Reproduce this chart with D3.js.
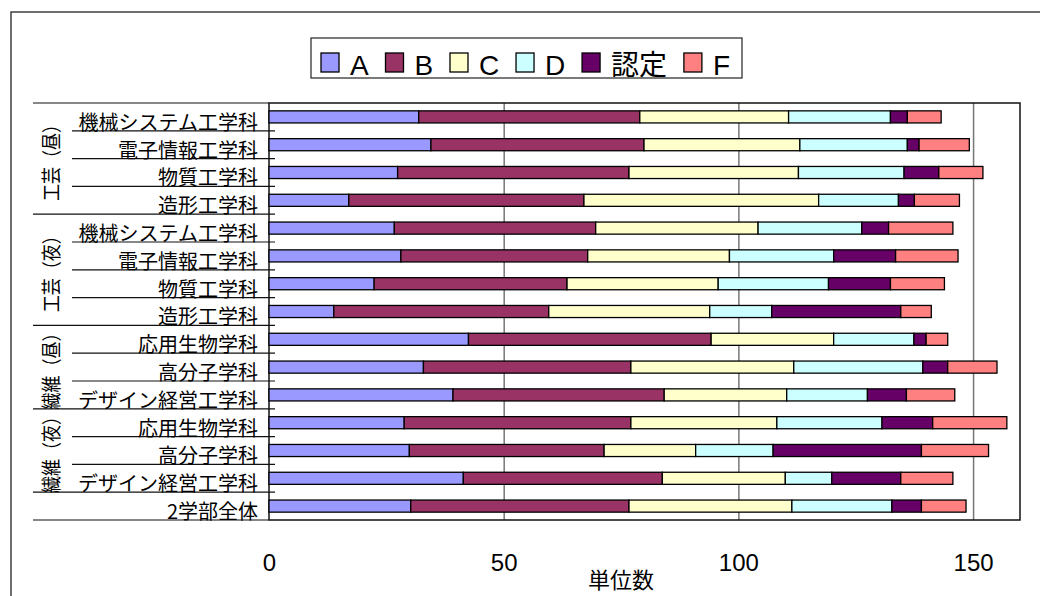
<!DOCTYPE html>
<html>
<head>
<meta charset="utf-8">
<script src="https://cdn.jsdelivr.net/npm/d3@7"></script>
<style>
  body { margin: 0; background: #fff; }
  svg { display: block; }
</style>
</head>
<body>
<svg id="chart"></svg>
<script>
// categories, bottom group "2学部全体" has no group label
let categories = ['機械システム工学科', '電子情報工学科', '物質工学科', '造形工学科',
  '機械システム工学科', '電子情報工学科', '物質工学科', '造形工学科',
  '応用生物学科', '高分子学科', 'デザイン経営工学科',
  '応用生物学科', '高分子学科', 'デザイン経営工学科',
  '2学部全体'];
let groupNames = ['工芸（昼）', '工芸（夜）', '繊維（昼）', '繊維（夜）', ''];
let groupSizes = [4, 4, 3, 3, 1];

let seriesNames = ['A', 'B', 'C', 'D', '認定', 'F'];
let seriesColors = ['#9999FF', '#993366', '#FFFFCC', '#CCFFFF', '#660066', '#FF8080'];

// values (units)
let valuesA = [31.9, 34.5, 27.4, 17.0, 26.7, 28.1, 22.4, 13.8, 42.5, 32.9, 39.2, 28.8, 29.9, 41.4, 30.2];
let valuesB = [47.1, 45.4, 49.3, 50.1, 42.9, 39.8, 41.1, 45.8, 51.7, 44.2, 45.0, 48.3, 41.5, 42.4, 46.5];
let valuesC = [31.7, 33.2, 36.1, 50.0, 34.6, 30.2, 32.2, 34.3, 26.1, 34.7, 26.1, 31.1, 19.5, 26.2, 34.7];
let valuesD = [21.7, 22.9, 22.5, 17.0, 22.1, 22.2, 23.5, 13.2, 17.1, 27.5, 17.2, 22.4, 16.5, 9.9, 21.3];
let valuesNintei = [3.6, 2.5, 7.4, 3.4, 5.7, 13.2, 13.2, 27.5, 2.6, 5.3, 8.3, 10.8, 31.6, 14.7, 6.3];
let valuesF = [7.2, 10.7, 9.4, 9.6, 13.7, 13.3, 11.5, 6.5, 4.6, 10.5, 10.3, 15.8, 14.3, 11.1, 9.5];

let xTicks = [0, 50, 100, 150];
let xMax = 160;
let xTitle = '単位数';

let config = {
  svg: { width: 1040, height: 596 },
  plot: { left: 269, top: 103, right: 1020, bottom: 520 }
};

let fontCJK = '"Noto Sans CJK JP", sans-serif';
let fontLatin = '"Liberation Sans", "Noto Sans CJK JP", sans-serif';

let svg = d3.select('#chart')
  .attr('width', config.svg.width)
  .attr('height', config.svg.height);

// outer chart border (runs off the right and bottom of the picture)
svg.append('rect')
  .attr('x', 11).attr('y', 12)
  .attr('width', 1100).attr('height', 700)
  .attr('fill', 'none')
  .attr('stroke', '#222')
  .attr('stroke-width', 1.3);

let p = config.plot;

let x = d3.scaleLinear()
  .domain([0, xMax])
  .range([p.left, p.right]);

let idx = d3.range(categories.length);

let rowScale = d3.scaleBand()
  .domain(idx)
  .range([p.top, p.bottom]);

let barScale = d3.scaleBand()
  .domain(idx)
  .range([p.top, p.bottom])
  .paddingInner(0.565)
  .paddingOuter(0.2825);

// gridlines
svg.append('g')
  .attr('transform', translate(0, p.top))
  .call(d3.axisBottom(x).tickValues(xTicks.slice(1)).tickSize(p.bottom - p.top).tickFormat(''))
  .call(g => g.select('.domain').remove())
  .call(g => g.selectAll('line').attr('stroke', '#777').attr('stroke-width', 1.5));

// plot frame
svg.append('rect')
  .attr('x', p.left).attr('y', p.top)
  .attr('width', p.right - p.left).attr('height', p.bottom - p.top)
  .attr('fill', 'none')
  .attr('stroke', '#111')
  .attr('stroke-width', 1.5);

// stacked bars
let table = idx.map(i => ({
  i: i,
  A: valuesA[i], B: valuesB[i], C: valuesC[i], D: valuesD[i], '認定': valuesNintei[i], F: valuesF[i]
}));
let stacked = d3.stack().keys(seriesNames)(table);

svg.append('g')
  .selectAll('g')
  .data(stacked)
  .join('g')
  .attr('fill', (d, k) => seriesColors[k])
  .selectAll('rect')
  .data(d => d)
  .join('rect')
  .attr('x', d => x(d[0]))
  .attr('y', d => barScale(d.data.i))
  .attr('width', d => x(d[1]) - x(d[0]))
  .attr('height', barScale.bandwidth())
  .attr('stroke', '#000')
  .attr('stroke-width', 1.3);

// category label lines and ticks
let groupStarts = [];
groupSizes.reduce((acc, n) => { groupStarts.push(acc); return acc + n; }, 0);

let boundaries = d3.range(categories.length + 1);
svg.append('g')
  .selectAll('line')
  .data(boundaries)
  .join('line')
  .attr('x1', b => (groupStarts.includes(b) || b === categories.length) ? 33 : 72)
  .attr('x2', b => (b === 0 || b === categories.length) ? p.left : p.left + 6)
  .attr('y1', b => p.top + b * rowScale.step())
  .attr('y2', b => p.top + b * rowScale.step())
  .attr('stroke', '#111')
  .attr('stroke-width', 1.2);

// category labels
svg.append('g')
  .selectAll('text')
  .data(idx)
  .join('text')
  .attr('x', 258)
  .attr('y', i => rowScale(i) + rowScale.step() - 1)
  .attr('text-anchor', 'end')
  .attr('font-family', fontCJK)
  .attr('font-size', 20)
  .attr('fill', '#000')
  .text(i => categories[i]);

// group labels, rotated
svg.append('g')
  .selectAll('text')
  .data(groupNames.map((g, k) => ({ name: g, start: groupStarts[k], size: groupSizes[k] })).filter(d => d.name))
  .join('text')
  .attr('transform', d => {
    let cy = p.top + (d.start + d.size / 2) * rowScale.step();
    return translate(52, cy) + ' rotate(-90) scale(0.85,1)';
  })
  .attr('text-anchor', 'middle')
  .attr('dy', '0.36em')
  .attr('font-family', fontCJK)
  .attr('font-size', 20)
  .attr('fill', '#000')
  .text(d => d.name);

// x axis labels
svg.append('g')
  .attr('transform', translate(0, p.bottom))
  .call(d3.axisBottom(x).tickValues(xTicks).tickSize(0).tickPadding(0))
  .call(g => g.select('.domain').remove())
  .call(g => g.selectAll('text')
    .attr('y', 42)
    .attr('dy', '0.36em')
    .attr('font-family', fontLatin)
    .attr('font-size', 24)
    .attr('fill', '#000'));

svg.append('text')
  .attr('x', 621)
  .attr('y', 588)
  .attr('text-anchor', 'middle')
  .attr('font-family', fontCJK)
  .attr('font-size', 22)
  .attr('fill', '#000')
  .text(xTitle);

// legend
let legend = svg.append('g');
legend.append('rect')
  .attr('x', 311).attr('y', 38)
  .attr('width', 431).attr('height', 40)
  .attr('fill', '#fff')
  .attr('stroke', '#222')
  .attr('stroke-width', 1.2);

let items = legend.selectAll('g.item')
  .data(seriesNames)
  .join('g')
  .attr('class', 'item');

items.append('rect')
  .attr('width', 18).attr('height', 19)
  .attr('y', 53)
  .attr('fill', (d, k) => seriesColors[k])
  .attr('stroke', '#000')
  .attr('stroke-width', 1.3);

items.append('text')
  .attr('x', 29)
  .attr('y', 75)
  .attr('font-family', fontLatin)
  .attr('font-size', 28)
  .attr('fill', '#000')
  .text(d => d);

// spread the items evenly between the first square and the last label end
let widths = [];
items.each(function() {
  widths.push(29 + d3.select(this).select('text').node().getComputedTextLength());
});
let legendStart = 321, legendEnd = 730;
let gap = (legendEnd - legendStart - d3.sum(widths)) / (widths.length - 1);
let pos = legendStart;
items.attr('transform', (d, k) => {
  let t = translate(pos, 0);
  pos += widths[k] + gap;
  return t;
});

function translate(x, y) {
  return 'translate(' + x + ',' + y + ')';
}
</script>
</body>
</html>
